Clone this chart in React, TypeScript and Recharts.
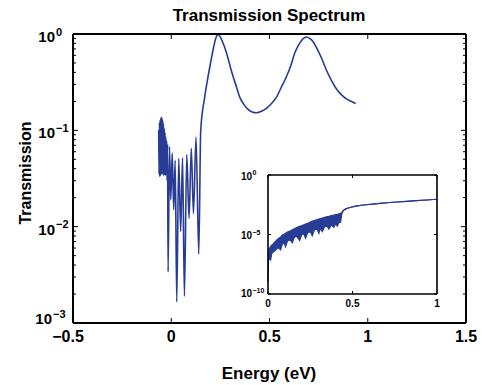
import { LineChart, Line, XAxis, YAxis, ComposedChart, Area } from "recharts";

const FONT = '"Liberation Sans", Arial, Helvetica, sans-serif';
const BLUE = "#283c96";

// main curve: energy (eV) vs transmission
const energy = [
  -0.064, -0.062, -0.06, -0.058, -0.056, -0.054, -0.052, -0.05, -0.048, -0.046,
  -0.044, -0.042, -0.04, -0.038, -0.036, -0.034, -0.032, -0.03, -0.028, -0.026,
  -0.024, -0.021, -0.019, -0.016, -0.009, -0.0025, 0.005, 0.0127, 0.02, 0.028,
  0.038, 0.048, 0.0575, 0.067, 0.079, 0.0906, 0.102, 0.113, 0.126, 0.14,
  0.15, 0.17, 0.185, 0.2, 0.215, 0.228, 0.238, 0.25, 0.262, 0.281,
  0.3, 0.315, 0.33, 0.349, 0.37, 0.391, 0.412, 0.434, 0.46, 0.484,
  0.51, 0.535, 0.56, 0.586, 0.61, 0.628, 0.65, 0.67, 0.688, 0.705,
  0.722, 0.739, 0.765, 0.79, 0.815, 0.84, 0.865, 0.892, 0.915, 0.939,
];
const transmission = [
  0.1, 0.035, 0.12, 0.033, 0.13, 0.034, 0.136, 0.036, 0.137, 0.035,
  0.128, 0.036, 0.118, 0.034, 0.105, 0.036, 0.095, 0.034, 0.085, 0.035,
  0.078, 0.03, 0.072, 0.0034, 0.068, 0.019, 0.058, 0.015, 0.049, 0.00166,
  0.051, 0.0089, 0.052, 0.0019, 0.056, 0.0122, 0.065, 0.0137, 0.085, 0.0052,
  0.1, 0.22, 0.34, 0.5, 0.72, 0.92, 0.99, 0.93, 0.82, 0.64,
  0.46, 0.36, 0.29, 0.22, 0.185, 0.165, 0.155, 0.152, 0.158, 0.169,
  0.19, 0.22, 0.28, 0.36, 0.48, 0.63, 0.78, 0.89, 0.93, 0.9,
  0.83, 0.72, 0.56, 0.42, 0.33, 0.27, 0.235, 0.212, 0.2, 0.19,
];

const xTicks = [-0.5, 0, 0.5, 1, 1.5];
const xTickLabels = ["\u22120.5", "0", "0.5", "1", "1.5"];
const yDecades = [-3, -2, -1, 0];

// inset: band of fast oscillations, given as exponents of ten (top / bottom edge)
const insetT = [
  0, 0.002, 0.008, 0.0155, 0.022, 0.03, 0.045, 0.06, 0.0746, 0.085,
  0.095, 0.104, 0.115, 0.13, 0.144, 0.155, 0.17, 0.187, 0.2, 0.212,
  0.222, 0.235, 0.25, 0.262, 0.275, 0.29, 0.301, 0.311, 0.321, 0.335,
  0.35, 0.36, 0.375, 0.39, 0.4, 0.41, 0.42, 0.43, 0.436, 0.446,
  0.46, 0.485, 0.52, 0.564, 0.62, 0.662, 0.72, 0.76, 0.82, 0.878,
  0.94, 1.0,
];
const insetHighExp = [
  -6.6, -6.5, -6.2, -6.0, -5.9, -5.8, -5.55, -5.35, -5.2, -5.05,
  -4.98, -4.9, -4.8, -4.7, -4.6, -4.52, -4.42, -4.32, -4.25, -4.18,
  -4.12, -4.05, -3.95, -3.88, -3.82, -3.75, -3.7, -3.66, -3.62, -3.56,
  -3.5, -3.47, -3.42, -3.37, -3.33, -3.3, -3.26, -3.22, -3.14, -2.98,
  -2.85, -2.73, -2.62, -2.52, -2.44, -2.38, -2.31, -2.27, -2.21, -2.16,
  -2.1, -2.04,
];
const insetLowExp = [
  -9.0, -7.2, -7.0, -7.14, -6.6, -6.5, -6.3, -6.1, -6.3, -5.8,
  -5.7, -6.02, -5.55, -5.45, -5.7, -5.25, -5.15, -5.5, -5.0, -4.95,
  -5.3, -4.85, -4.75, -5.1, -4.6, -4.55, -4.9, -4.45, -4.75, -4.35,
  -4.3, -4.55, -4.2, -4.4, -4.1, -4.3, -4.0, -3.95, -3.3, -2.98,
  -2.85, -2.73, -2.62, -2.52, -2.44, -2.38, -2.31, -2.27, -2.21, -2.16,
  -2.1, -2.04,
];
const insetXTicks = [0, 0.5, 1];
const insetXTickLabels = ["0", "0.5", "1"];
const insetDecades = [-10, -5, 0];

const mainData = energy.map((e, i) => ({ e, tr: transmission[i] }));
const insetData = insetT.map((t, i) => ({
  t,
  band: [Math.pow(10, insetLowExp[i]), Math.pow(10, insetHighExp[i])],
  top: Math.pow(10, insetHighExp[i]),
}));

// log axis ticks: decades plus 2..9 minor ticks
const yTicks: number[] = [];
yDecades.forEach((d, i) => {
  if (i === yDecades.length - 1) {
    yTicks.push(Math.pow(10, d));
    return;
  }
  for (let m = 1; m <= 9; m++) yTicks.push(m * Math.pow(10, d));
});
const insetYTicks = insetDecades.map((d) => Math.pow(10, d));

const expLabel = (d: number) => (d < 0 ? "\u2212" + Math.abs(d) : String(d));
const decadeOf = (v: number) => {
  const l = Math.log10(v);
  const r = Math.round(l);
  return Math.abs(l - r) < 1e-6 ? r : null;
};

function MainBottomTick(props: any) {
  const { x, y, payload } = props;
  const i = xTicks.indexOf(payload.value);
  const neg = payload.value < 0;
  return (
    <g>
      <line x1={x} y1={y} x2={x} y2={y - 5} stroke="#000" strokeWidth={1} />
      <text
        x={x + (neg ? -5 : 0)}
        y={y + 19}
        textAnchor="middle"
        fontFamily={FONT}
        fontWeight="bold"
        fontSize={16}
        fill="#000"
      >
        {xTickLabels[i]}
      </text>
    </g>
  );
}

function MainTopTick(props: any) {
  const { x, y } = props;
  return <line x1={x} y1={y} x2={x} y2={y + 5} stroke="#000" strokeWidth={1} />;
}

function MainLeftTick(props: any) {
  const { x, y, payload } = props;
  const d = decadeOf(payload.value);
  const major = d !== null;
  const bottom = d === yDecades[0];
  const endX = bottom ? x - 21 : x - 18;
  const base = bottom ? y + 1 : y + 8;
  return (
    <g>
      <line x1={x} y1={y} x2={x + (major ? 5 : 3)} y2={y} stroke="#000" strokeWidth={1} />
      {major && (
        <g fontFamily={FONT} fontWeight="bold" fill="#000">
          <text x={endX} y={base} textAnchor="end" fontSize={15}>
            10
          </text>
          <text x={endX + 1} y={base - 6.5} textAnchor="start" fontSize={11}>
            {expLabel(d as number)}
          </text>
        </g>
      )}
    </g>
  );
}

function MainRightTick(props: any) {
  const { x, y, payload } = props;
  const major = decadeOf(payload.value) !== null;
  return <line x1={x} y1={y} x2={x - (major ? 5 : 3)} y2={y} stroke="#000" strokeWidth={1} />;
}

function InsetBottomTick(props: any) {
  const { x, y, payload } = props;
  const i = insetXTicks.indexOf(payload.value);
  return (
    <g>
      <line x1={x} y1={y} x2={x} y2={y - 3} stroke="#000" strokeWidth={1} />
      <text
        x={x}
        y={y + 12.5}
        textAnchor="middle"
        fontFamily={FONT}
        fontWeight="bold"
        fontSize={10}
        fill="#000"
      >
        {insetXTickLabels[i]}
      </text>
    </g>
  );
}

function InsetTopTick(props: any) {
  const { x, y } = props;
  return <line x1={x} y1={y} x2={x} y2={y + 3} stroke="#000" strokeWidth={1} />;
}

function InsetLeftTick(props: any) {
  const { x, y, payload } = props;
  const d = decadeOf(payload.value) as number;
  const bottom = d === insetDecades[0];
  const endX = x - 16;
  const base = bottom ? y + 3 : y + 4.5;
  return (
    <g>
      <line x1={x} y1={y} x2={x + 3} y2={y} stroke="#000" strokeWidth={1} />
      <g fontFamily={FONT} fontWeight="bold" fill="#000">
        <text x={endX} y={base} textAnchor="end" fontSize={10}>
          10
        </text>
        <text x={endX + 0.5} y={base - 4.5} textAnchor="start" fontSize={7}>
          {expLabel(d)}
        </text>
      </g>
    </g>
  );
}

function InsetRightTick(props: any) {
  const { x, y } = props;
  return <line x1={x} y1={y} x2={x - 3} y2={y} stroke="#000" strokeWidth={1} />;
}

const frame = { stroke: "#000", strokeWidth: 2 };
const insetFrame = { stroke: "#000", strokeWidth: 1.6 };

export default function App() {
  return (
    <div
      style={{
        position: "absolute",
        left: 0,
        top: 0,
        width: 488,
        height: 385,
        background: "#fff",
        fontFamily: FONT,
      }}
    >
      <LineChart
        width={488}
        height={385}
        data={mainData}
        margin={{ top: 33, right: 21, bottom: 0, left: 0 }}
      >
        <XAxis
          dataKey="e"
          type="number"
          domain={[-0.5, 1.5]}
          ticks={xTicks}
          interval={0}
          height={62}
          axisLine={frame}
          tickLine={false}
          tickSize={0}
          tickMargin={0}
          tick={(p: any) => <MainBottomTick {...p} />}
          allowDataOverflow
        />
        <XAxis
          xAxisId="top"
          orientation="top"
          dataKey="e"
          type="number"
          domain={[-0.5, 1.5]}
          ticks={xTicks}
          interval={0}
          height={1}
          axisLine={frame}
          tickLine={false}
          tickSize={0}
          tickMargin={0}
          tick={(p: any) => <MainTopTick {...p} />}
          allowDataOverflow
        />
        <YAxis
          type="number"
          scale="log"
          domain={[0.001, 1]}
          ticks={yTicks}
          interval={0}
          width={73}
          axisLine={frame}
          tickLine={false}
          tickSize={0}
          tickMargin={0}
          tick={(p: any) => <MainLeftTick {...p} />}
          allowDataOverflow
        />
        <YAxis
          yAxisId="right"
          orientation="right"
          type="number"
          scale="log"
          domain={[0.001, 1]}
          ticks={yTicks}
          interval={0}
          width={1}
          axisLine={frame}
          tickLine={false}
          tickSize={0}
          tickMargin={0}
          tick={(p: any) => <MainRightTick {...p} />}
          allowDataOverflow
        />
        {/* invisible twin so the top/right box axes get a series */}
        <Line
          xAxisId="top"
          yAxisId="right"
          dataKey="tr"
          stroke="none"
          dot={false}
          activeDot={false}
          isAnimationActive={false}
        />
        <Line
          dataKey="tr"
          type="monotone"
          stroke={BLUE}
          strokeWidth={1.6}
          dot={false}
          isAnimationActive={false}
        />
      </LineChart>

      <div style={{ position: "absolute", left: 228, top: 163 }}>
        <ComposedChart
          width={217}
          height={157}
          data={insetData}
          margin={{ top: 11, right: 7, bottom: 0, left: 0 }}
        >
          <XAxis
            dataKey="t"
            type="number"
            domain={[0, 1]}
            ticks={insetXTicks}
            interval={0}
            height={26}
            axisLine={insetFrame}
            tickLine={false}
            tickSize={0}
            tickMargin={0}
            tick={(p: any) => <InsetBottomTick {...p} />}
          />
          <XAxis
            xAxisId="top"
            orientation="top"
            dataKey="t"
            type="number"
            domain={[0, 1]}
            ticks={insetXTicks}
            interval={0}
            height={1}
            axisLine={insetFrame}
            tickLine={false}
            tickSize={0}
            tickMargin={0}
            tick={(p: any) => <InsetTopTick {...p} />}
          />
          <YAxis
            type="number"
            scale="log"
            domain={[1e-10, 1]}
            ticks={insetYTicks}
            interval={0}
            width={40}
            axisLine={insetFrame}
            tickLine={false}
            tickSize={0}
            tickMargin={0}
            tick={(p: any) => <InsetLeftTick {...p} />}
            allowDataOverflow
          />
          <YAxis
            yAxisId="right"
            orientation="right"
            type="number"
            scale="log"
            domain={[1e-10, 1]}
            ticks={insetYTicks}
            interval={0}
            width={1}
            axisLine={insetFrame}
            tickLine={false}
            tickSize={0}
            tickMargin={0}
            tick={(p: any) => <InsetRightTick {...p} />}
            allowDataOverflow
          />
          <Line
            xAxisId="top"
            yAxisId="right"
            dataKey="top"
            stroke="none"
            dot={false}
            activeDot={false}
            isAnimationActive={false}
          />
          <Area
            dataKey="band"
            type="linear"
            stroke={BLUE}
            strokeWidth={1.2}
            fill={BLUE}
            fillOpacity={1}
            dot={false}
            activeDot={false}
            isAnimationActive={false}
          />
        </ComposedChart>
      </div>

      <svg
        width={488}
        height={385}
        style={{ position: "absolute", left: 0, top: 0, pointerEvents: "none" }}
      >
        <g fontFamily={FONT} fontWeight="bold" fill="#000">
          <text x={269} y={21} textAnchor="middle" fontSize={17}>
            Transmission Spectrum
          </text>
          <text x={269} y={378.5} textAnchor="middle" fontSize={17}>
            Energy (eV)
          </text>
          <text
            x={31}
            y={173}
            textAnchor="middle"
            fontSize={16}
            transform="rotate(-90 31 173)"
          >
            Transmission
          </text>
        </g>
      </svg>
    </div>
  );
}
